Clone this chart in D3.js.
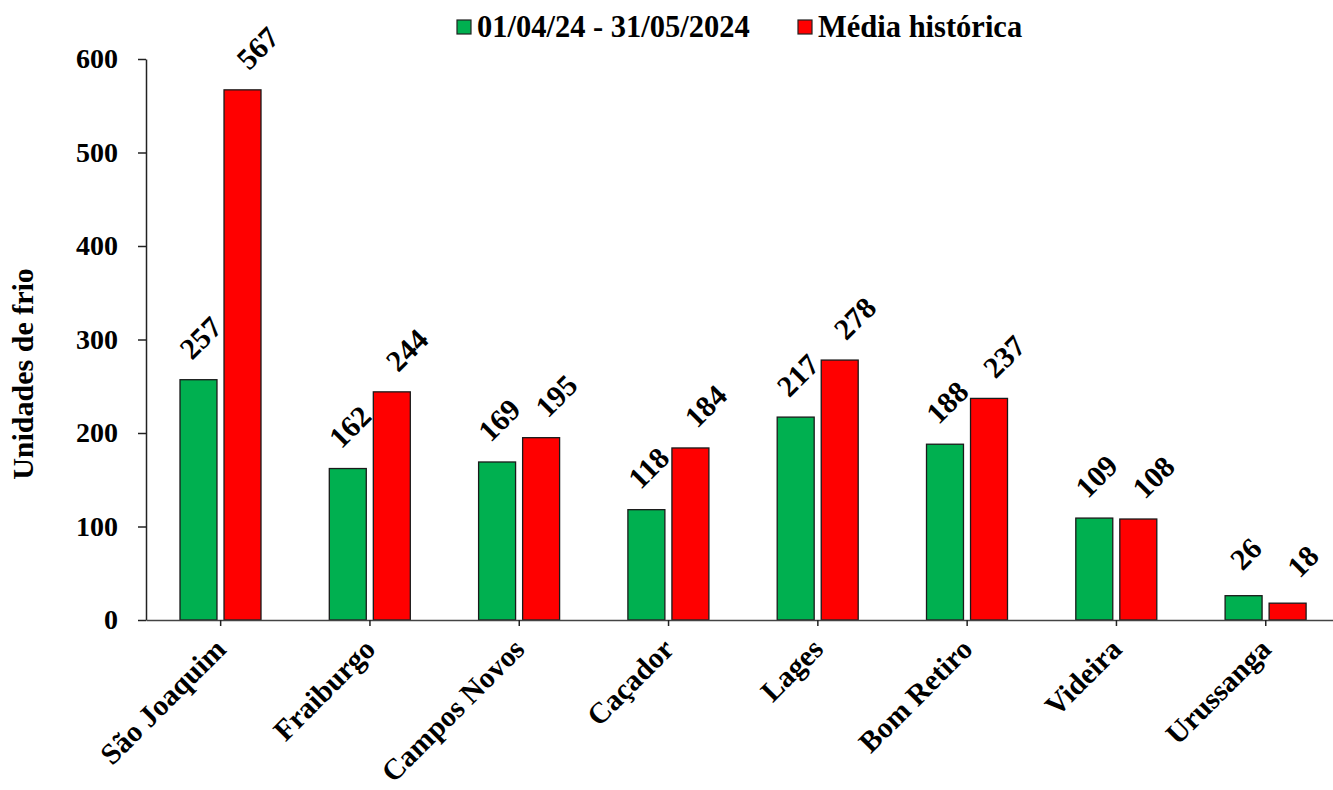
<!DOCTYPE html>
<html><head><meta charset="utf-8">
<script src="https://cdn.jsdelivr.net/npm/d3@7"></script>
<style>
body{margin:0;background:#fff;}
text{font-family:"Liberation Serif","Times New Roman",serif;font-weight:bold;fill:#000;}
</style></head>
<body><svg id="c" width="1333" height="790"></svg>
<script>
const categories = ["São Joaquim","Fraiburgo","Campos Novos","Caçador","Lages","Bom Retiro","Videira","Urussanga"];
const seriesNames = ["01/04/24 - 31/05/2024","Média histórica"];
const periodValues = [257,162,169,118,217,188,109,26];
const historicValues = [567,244,195,184,278,237,108,18];
const yTicks = [0,100,200,300,400,500,600];
const colors = ["#00B050","#FF0000"];

const svg = d3.select("#c");
const x0 = d3.scaleBand().domain(categories).range([146, 146 + 8*149.3]).padding(0);
const x1 = d3.scaleBand().domain(seriesNames).range([34, 115]).paddingInner(0.16).paddingOuter(0);
const y = d3.scaleLinear().domain([0,600]).range([620,59]);

const data = categories.map((c,i)=>({cat:c, vals:[periodValues[i], historicValues[i]]}));
const labelDx = [2, 15];

// bars
const g = svg.append("g");
data.forEach(d=>{
  d.vals.forEach((v,j)=>{
    const bx = x0(d.cat) + x1(seriesNames[j]);
    g.append("rect").attr("x",bx).attr("y",y(v)).attr("width",x1.bandwidth()).attr("height",y(0)-y(v))
      .attr("fill",colors[j]).attr("stroke","#1a1a1a").attr("stroke-width",1.3);
    g.append("text").attr("transform",`translate(${bx + x1.bandwidth()/2 + labelDx[j]},${y(v)-42}) rotate(-45)`)
      .attr("text-anchor","middle").attr("dominant-baseline","central").style("font-size","30px").text(v);
  });
});

// y axis
const yAxis = d3.axisLeft(y).tickValues(yTicks).tickSize(8).tickPadding(20).tickSizeOuter(0);
const ya = svg.append("g").attr("transform","translate(146,0)").call(yAxis);
ya.selectAll("text").style("font-size","28px").attr("font-family",null);
ya.select(".domain").attr("stroke","#222").attr("stroke-width",1.5);
ya.selectAll(".tick line").attr("stroke","#222").attr("stroke-width",1.5);

// x axis
const xa = svg.append("g").attr("transform","translate(0,620)")
  .call(d3.axisBottom(x0).tickSize(6).tickSizeOuter(0).tickFormat(""));
xa.select(".domain").attr("stroke","#444").attr("stroke-width",1.5);
xa.selectAll(".tick line").attr("stroke","#222").attr("stroke-width",1.5);
categories.forEach(c=>{
  const cx = x0(c) + x0.bandwidth()/2;
  svg.append("text").attr("transform",`translate(${cx+7},651) rotate(-45)`)
    .attr("text-anchor","end").style("font-size","29.5px").text(c);
});

// y title
svg.append("text").attr("transform","translate(33,374) rotate(-90)")
  .attr("text-anchor","middle").style("font-size","30px").text("Unidades de frio");

// legend
const legX = [457, 798];
seriesNames.forEach((s,j)=>{
  svg.append("rect").attr("x",legX[j]).attr("y",20).attr("width",14).attr("height",14)
    .attr("fill",colors[j]).attr("stroke","#222").attr("stroke-width",1.2);
  svg.append("text").attr("x",legX[j]+20).attr("y",37).style("font-size","30.5px").text(s);
});
</script></body></html>
